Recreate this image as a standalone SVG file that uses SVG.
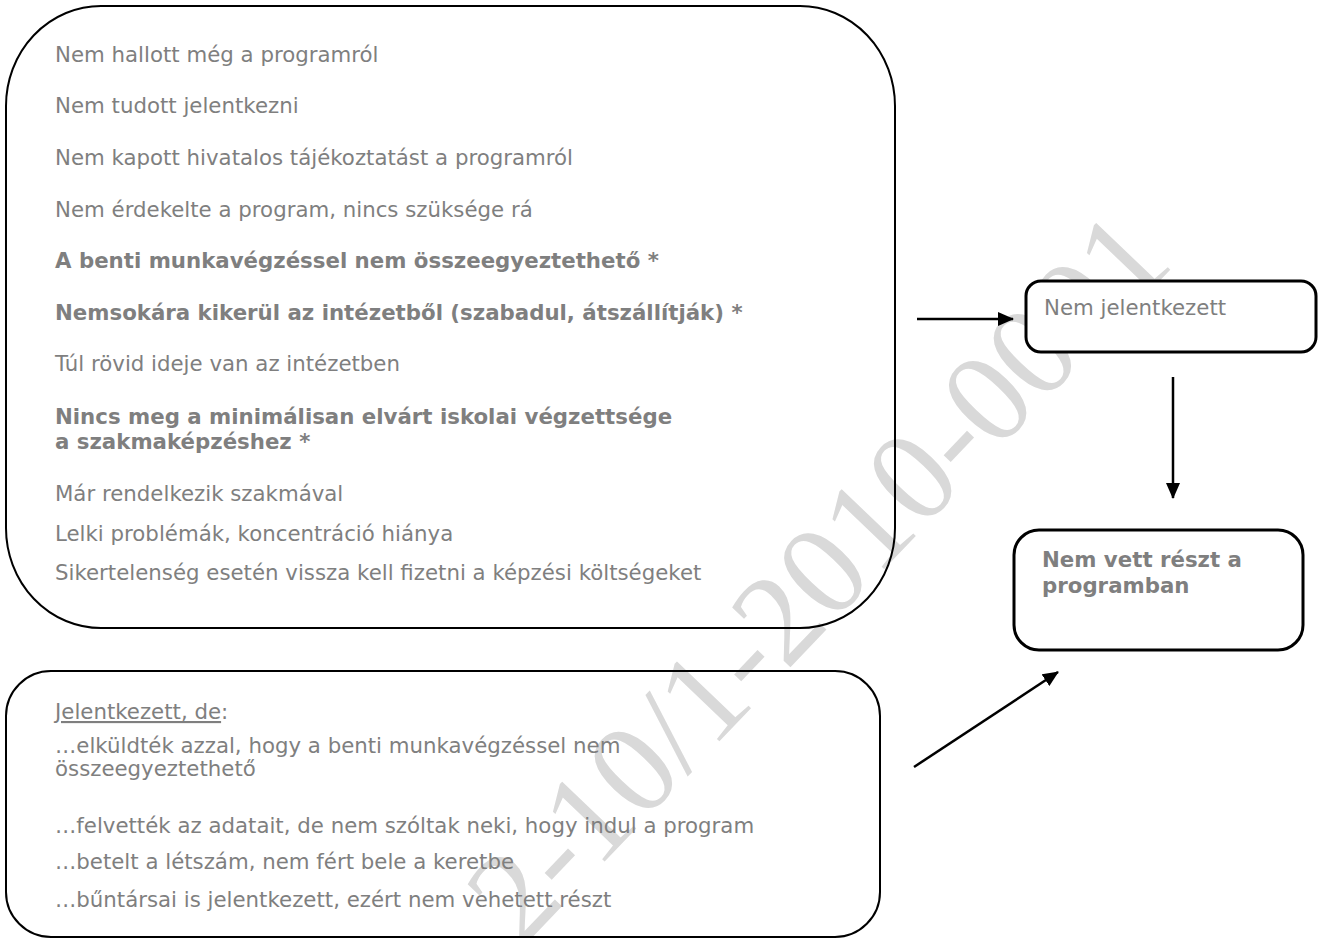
<svg xmlns="http://www.w3.org/2000/svg" width="1323" height="938" viewBox="0 0 1323 938">
<style>
.t{font-family:"DejaVu Sans","Verdana",sans-serif;font-size:21.3px;fill:#7f7f7f}
.b{font-weight:bold}
.box{fill:none;stroke:#000;stroke-width:2}
.sbox{fill:#fff;stroke:#000;stroke-width:3}
.wm{font-family:"Liberation Serif","Times New Roman",serif;font-size:130px;fill:#d9d9d9}
.c{stroke:#000;stroke-width:2.5;fill:none;marker-end:url(#ah)}
</style>
<defs>
<marker id="ah" viewBox="0 0 16 14" refX="15" refY="7" markerWidth="16" markerHeight="14" markerUnits="userSpaceOnUse" orient="auto">
<path d="M0,0 L16,7 L0,14 z" fill="#000"/>
</marker>
</defs>
<rect width="1323" height="938" fill="#fff"/>
<text class="wm" transform="translate(522,948) rotate(-46.3)">2-10/1-2010-0001</text>
<g id="reasons">
<rect class="box" x="6" y="6" width="889" height="622" rx="95" ry="100"/>
<text class="t" x="55" y="62">Nem hallott még a programról</text>
<text class="t" x="55" y="113">Nem tudott jelentkezni</text>
<text class="t" x="55" y="165">Nem kapott hivatalos tájékoztatást a programról</text>
<text class="t" x="55" y="217">Nem érdekelte a program, nincs szüksége rá</text>
<text class="t b" x="55" y="268">A benti munkavégzéssel nem összeegyeztethető *</text>
<text class="t b" x="55" y="320">Nemsokára kikerül az intézetből (szabadul, átszállítják) *</text>
<text class="t" x="55" y="371">Túl rövid ideje van az intézetben</text>
<text class="t b" x="55" y="424">Nincs meg a minimálisan elvárt iskolai végzettsége</text>
<text class="t b" x="55" y="449">a szakmaképzéshez *</text>
<text class="t" x="55" y="501">Már rendelkezik szakmával</text>
<text class="t" x="55" y="541">Lelki problémák, koncentráció hiánya</text>
<text class="t" x="55" y="580">Sikertelenség esetén vissza kell fizetni a képzési költségeket</text>
</g>
<g id="applied">
<rect class="box" x="6" y="671" width="874" height="266" rx="45" ry="45"/>
<text class="t" x="55" y="719"><tspan text-decoration="underline">Jelentkezett, de</tspan>:</text>
<text class="t" x="55" y="753">…elküldték azzal, hogy a benti munkavégzéssel nem</text>
<text class="t" x="55" y="776">összeegyeztethető</text>
<text class="t" x="55" y="833">…felvették az adatait, de nem szóltak neki, hogy indul a program</text>
<text class="t" x="55" y="869">…betelt a létszám, nem fért bele a keretbe</text>
<text class="t" x="55" y="907">…bűntársai is jelentkezett, ezért nem vehetett részt</text>
</g>
<g id="notapplied">
<rect class="sbox" x="1026" y="281" width="290" height="71" rx="15"/>
<text class="t" x="1044" y="315">Nem jelentkezett</text>
</g>
<g id="notparticipated">
<rect class="sbox" x="1014" y="530" width="289" height="120" rx="25"/>
<text class="t b" x="1042" y="567">Nem vett részt a</text>
<text class="t b" x="1042" y="593">programban</text>
</g>
<g id="connectors">
<line class="c" x1="917" y1="319" x2="1013" y2="319"/>
<line class="c" x1="1173" y1="377" x2="1173" y2="498"/>
<line class="c" x1="914" y1="767" x2="1058" y2="672"/>
</g>
</svg>
